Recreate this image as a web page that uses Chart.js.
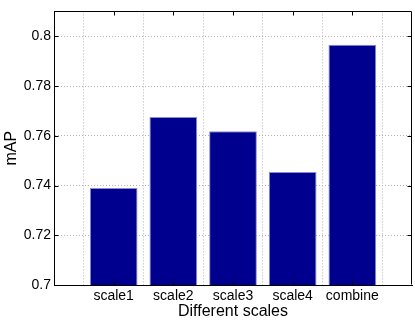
<!DOCTYPE html>
<html>
<head>
<meta charset="utf-8">
<script src="https://cdn.jsdelivr.net/npm/chart.js@4"></script>
<style>
  html, body { margin: 0; padding: 0; background: #fff; }
  #wrap { width: 415px; height: 322px; }
</style>
</head>
<body>
<div id="wrap"><canvas id="mapChart"></canvas></div>
<script>
// data
const categories = ['scale1', 'scale2', 'scale3', 'scale4', 'combine'];
const mapValues = [0.739, 0.7675, 0.7618, 0.7454, 0.7966];
const yTicks = [0.7, 0.72, 0.74, 0.76, 0.78, 0.8];
const yMin = 0.7;
const yMax = 0.81;

// empty slots at both ends, like the matlab axis 0..6
const labels = [''].concat(categories, ['']);
const values = [null].concat(mapValues, [null]);

// box + inward ticks, matlab style
const boxPlugin = {
    id: 'box',
    afterDraw(chart) {
        const ctx = chart.ctx;
        const a = chart.chartArea;
        const xs = chart.scales.x, ys = chart.scales.y;
        const L = Math.round(a.left) + 0.5, R = Math.round(a.right) - 0.5;
        const T = Math.round(a.top) + 0.5, B = Math.round(a.bottom) - 0.5;
        ctx.save();
        ctx.strokeStyle = '#000';
        ctx.lineWidth = 1;
        ctx.beginPath();
        ctx.moveTo(L, T); ctx.lineTo(R, T); ctx.lineTo(R, B);
        // ticks on y
        ys.ticks.forEach(t => {
            const y = Math.round(ys.getPixelForValue(t.value)) + 0.5;
            ctx.moveTo(L, y); ctx.lineTo(L + 4, y);
            ctx.moveTo(R, y); ctx.lineTo(R - 4, y);
        });
        // ticks on x, only at real categories
        categories.forEach((c, i) => {
            const x = Math.round(xs.getPixelForValue(i + 1)) + 0.5;
            ctx.moveTo(x, T); ctx.lineTo(x, T + 4);
            ctx.moveTo(x, B); ctx.lineTo(x, B - 4);
        });
        ctx.stroke();
        ctx.restore();
    }
};

const ctx = document.getElementById('mapChart').getContext('2d');
const mapChart = new Chart(ctx, {
    type: 'bar',
    data: {
        labels: labels,
        datasets: [{
            label: 'mAP',
            data: values,
            backgroundColor: '#00008f',
            borderColor: '#8c8cd2',
            borderWidth: 1,
            categoryPercentage: 0.8,
            barPercentage: 1.0
        }]
    },
    options: {
        responsive: true,
        maintainAspectRatio: false,
        animation: false,
        layout: { padding: { top: 3, right: 3, left: 0, bottom: 0 } },
        plugins: {
            legend: { display: false },
            tooltip: { enabled: false }
        },
        scales: {
            x: {
                offset: false,
                afterFit: s => { s.height = 37; },
                grid: {
                    color: '#b4b4b4',
                    drawTicks: false,
                    tickBorderDash: [1, 2]
                },
                border: { display: true, color: '#000', dash: [1, 2] },
                ticks: {
                    color: '#000',
                    padding: 3,
                    maxRotation: 0,
                    autoSkip: false,
                    font: { family: 'Liberation Sans, Arial, sans-serif', size: 14 }
                },
                title: {
                    display: true,
                    text: 'Different scales',
                    color: '#000',
                    padding: { top: 0, bottom: 1 },
                    font: { family: 'Liberation Sans, Arial, sans-serif', size: 16 }
                }
            },
            y: {
                min: yMin,
                max: yMax,
                afterFit: s => { s.width = 54; },
                afterBuildTicks: s => { s.ticks = yTicks.map(v => ({ value: v })); },
                grid: {
                    color: '#b4b4b4',
                    drawTicks: false
                },
                border: { display: true, color: '#000', dash: [1, 2] },
                ticks: {
                    color: '#000',
                    padding: 3,
                    callback: v => String(Math.round(v * 100) / 100),
                    font: { family: 'Liberation Sans, Arial, sans-serif', size: 14 }
                },
                title: {
                    display: true,
                    text: 'mAP',
                    color: '#000',
                    padding: { top: 2, bottom: 0 },
                    font: { family: 'Liberation Sans, Arial, sans-serif', size: 16 }
                }
            }
        }
    },
    plugins: [boxPlugin]
});
</script>
</body>
</html>
